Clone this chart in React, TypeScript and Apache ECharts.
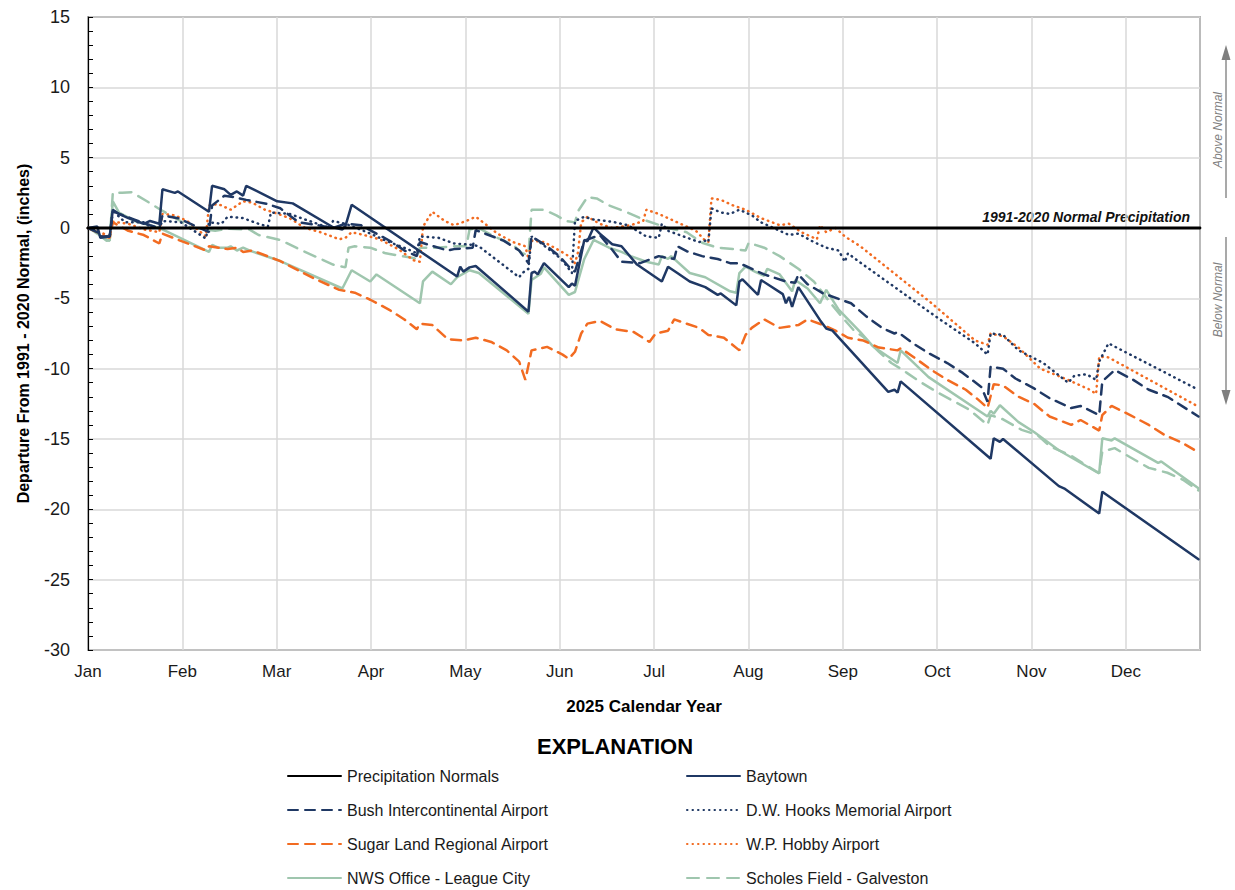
import React, { useEffect, useRef } from "react";
import * as echarts from "echarts";

// ---------- data (day of year 2025, departure in inches) ----------
const MONTHS = ["Jan", "Feb", "Mar", "Apr", "May", "Jun", "Jul", "Aug", "Sep", "Oct", "Nov", "Dec"];
const MONTH_STEP = 365 / 12;
const X_END = 358.5;
const Y_MIN = -30;
const Y_MAX = 15;

const normals: [number, number][] = [[0, 0], [X_END, 0]];

const baytown: [number, number][] = [
  [0, 0], [3, 0.1], [4, -0.7], [7, -0.6], [8, 1.3], [10, 1.0], [13, 0.7], [18, 0.3], [20, 0.5], [23, 0.3],
  [24, 2.75], [28, 2.5], [29, 2.6], [39, 1.15], [40, 3.0], [44, 2.75], [46, 2.35], [48, 2.6], [50, 2.3], [51, 3.0],
  [61, 1.9], [66, 1.75], [79, 0.05], [82, -0.1], [83, 0.15], [85, 1.65], [119, -3.45], [120, -2.75], [121, -3.1],
  [123, -2.8], [125, -2.7], [142, -5.95], [143, -3.2], [144, -3.1], [145, -3.3], [147, -2.5], [155, -4.2],
  [156, -3.95], [157, -4.1], [160, -0.85], [161, -0.95], [163, 0.05], [165, -0.4], [169, -1.15], [172, -1.3],
  [177, -2.6], [185, -3.8], [187, -2.75], [190, -3.2], [194, -3.8], [199, -4.2], [203, -4.75], [204, -4.65],
  [209, -5.5], [210, -3.8], [211, -3.65], [216, -4.75], [217, -3.7], [224, -4.7], [225, -5.35], [226, -4.9],
  [227, -5.6], [229, -4.2], [236, -6.55], [238, -7.15], [240, -7.3], [258, -11.65], [260, -11.5], [261, -11.7],
  [262, -10.9], [291, -16.4], [292, -14.95], [294, -15.2], [295, -15.0], [313, -18.35], [315, -18.55],
  [326, -20.3], [327, -18.75], [358, -23.55],
];

const bush: [number, number][] = [
  [0, 0], [3, -0.3], [4, -0.6], [7, -0.6], [8, 1.2], [10, 1.0], [15, 0.6], [20, 0.2], [23, 0.0], [24, 0.9],
  [29, 0.7], [39, -0.3], [40, 1.6], [44, 2.3], [47, 2.2], [51, 2.0], [58, 1.7], [62, 1.4], [68, 0.4], [74, 0.2],
  [79, 0.0], [83, 0.3], [88, 0.2], [93, -0.4], [98, -1.0], [102, -1.6], [106, -2.0], [107, -1.0], [116, -1.6],
  [118, -1.5], [124, -1.4], [125, -0.15], [134, -0.9], [139, -1.6], [142, -2.5], [143, -0.6], [148, -1.3],
  [152, -2.0], [156, -3.0], [157, -3.1], [160, -0.9], [165, -0.5], [169, -1.55], [172, -2.4], [178, -2.5],
  [184, -2.0], [186, -2.1], [189, -2.2], [190, -1.3], [193, -1.65], [198, -2.0], [203, -2.2], [207, -2.5],
  [210, -2.5], [218, -3.3], [225, -3.8], [228, -3.9], [229, -3.3], [232, -4.0], [237, -4.65], [246, -5.35],
  [251, -6.3], [256, -7.1], [260, -7.5], [261, -7.4], [262, -7.55], [266, -8.2], [271, -8.9], [277, -9.6],
  [282, -10.3], [288, -11.3], [290, -12.35], [291, -9.85], [295, -10.0], [299, -10.7], [305, -11.4],
  [310, -12.1], [317, -12.8], [320, -12.65], [326, -13.3], [327, -10.9], [331, -10.1], [337, -10.8],
  [342, -11.5], [348, -12.0], [353, -12.7], [358, -13.4],
];

const hooks: [number, number][] = [
  [0, 0], [3, -0.2], [4, -0.6], [7, -0.6], [8, 1.3], [10, 0.8], [12, 0.4], [18, 0.4], [20, 0.1], [23, 0.0],
  [24, 0.5], [30, 0.4], [38, -0.75], [39, 0.4], [43, 0.3], [45, 0.8], [50, 0.7], [55, 0.3], [58, 0.1], [59, 1.1],
  [65, 1.0], [70, 0.6], [78, 0.0], [79, 0.5], [83, 0.3], [90, -0.3], [96, -0.9], [103, -1.5], [106, -1.8],
  [107, -0.6], [113, -0.7], [118, -1.1], [124, -1.2], [126, -1.3], [139, -3.5], [140, -3.2], [142, -2.9],
  [143, -0.6], [145, -0.9], [152, -2.1], [154, -2.6], [156, -3.2], [157, 0.5], [160, 0.8], [163, 0.6],
  [167, 0.5], [170, 0.4], [174, 0.2], [180, -0.6], [184, -0.7], [185, 0.3], [187, -0.2], [197, -1.0],
  [199, -0.9], [200, -1.0], [201, 1.4], [204, 1.1], [207, 1.0], [210, 1.3], [214, 0.9], [217, 0.4], [221, 0.0],
  [226, -0.5], [229, -0.4], [234, -1.0], [238, -1.4], [242, -1.6], [244, -2.4], [245, -1.8], [248, -2.3],
  [274, -6.4], [286, -8.2], [290, -9.0], [291, -7.5], [295, -7.6], [300, -8.7], [308, -9.6], [316, -11.0],
  [318, -10.5], [322, -10.4], [325, -10.8], [326, -9.5], [329, -8.2], [358, -11.5],
];

const sugarLand: [number, number][] = [
  [0, 0], [3, -0.3], [6, -0.65], [7, -0.7], [8, 0.4], [13, -0.2], [18, -0.5], [23, -1.1], [24, -0.4],
  [28, -0.75], [38, -1.6], [39, -1.3], [45, -1.5], [48, -1.4], [50, -1.7], [53, -1.6], [62, -2.35], [73, -3.6],
  [81, -4.4], [86, -4.6], [91, -5.1], [97, -5.8], [102, -6.5], [106, -7.2], [107, -6.8], [111, -6.9],
  [116, -7.9], [121, -8.0], [125, -7.8], [130, -8.1], [135, -8.7], [139, -9.5], [141, -10.8], [143, -8.7],
  [148, -8.45], [153, -9.0], [155, -9.3], [157, -8.8], [159, -7.5], [161, -6.8], [165, -6.6], [170, -7.2],
  [176, -7.4], [181, -8.1], [183, -7.5], [187, -7.3], [189, -6.5], [193, -6.8], [197, -7.1], [200, -7.6],
  [205, -7.8], [210, -8.7], [212, -7.6], [214, -7.1], [218, -6.5], [223, -7.1], [226, -7.0], [229, -6.9],
  [232, -6.5], [237, -6.9], [241, -7.3], [245, -7.8], [250, -8.0], [255, -8.5], [261, -8.7], [262, -8.55],
  [266, -9.15], [272, -10.1], [277, -10.8], [283, -11.5], [287, -12.2], [290, -12.8], [292, -11.1],
  [295, -11.2], [300, -12.0], [305, -12.5], [310, -13.4], [317, -14.0], [320, -13.65], [326, -14.4],
  [327, -13.3], [330, -12.65], [336, -13.3], [342, -14.0], [347, -14.7], [353, -15.3], [358, -15.95],
];

const hobby: [number, number][] = [
  [0, 0], [3, -0.2], [6, -0.5], [7, -0.6], [8, 0.45], [13, 0.3], [18, -0.1], [23, -0.3], [24, 1.0], [28, 0.9],
  [32, 0.5], [38, -0.6], [39, 1.6], [42, 1.7], [46, 1.3], [50, 1.9], [53, 1.8], [57, 1.3], [60, 1.1], [65, 0.7],
  [70, 0.0], [75, -0.3], [81, -0.8], [83, -0.7], [85, -0.3], [89, -0.5], [94, -0.8], [100, -1.5], [105, -2.3],
  [107, -2.4], [108, 0.1], [111, 1.15], [115, 0.5], [118, 0.2], [122, 0.5], [125, 0.8], [128, 0.3],
  [132, -0.4], [137, -1.0], [141, -1.3], [142, -2.2], [143, -0.9], [147, -1.0], [152, -1.6], [155, -2.0],
  [157, -2.5], [158, -1.7], [159, 0.4], [161, 0.8], [165, 0.3], [169, 0.0], [175, 0.2], [179, 0.5], [180, 1.3],
  [184, 1.0], [190, 0.4], [196, -0.2], [199, -0.9], [200, -1.0], [201, 2.1], [204, 2.0], [208, 1.6],
  [212, 1.3], [217, 0.7], [223, 0.2], [226, 0.3], [230, -0.3], [235, -0.8], [236, 0.2], [238, -0.3],
  [241, 0.0], [244, -0.6], [249, -1.3], [272, -5.35], [286, -8.0], [290, -8.3], [291, -7.5], [295, -7.7],
  [300, -8.5], [307, -10.0], [316, -10.8], [323, -11.5], [325, -11.8], [326, -9.15], [329, -9.2], [358, -12.7],
];

const leagueCity: [number, number][] = [
  [0, 0], [1, -0.1], [3, -0.4], [6, -0.9], [7, -0.85], [8, 1.9], [10, 1.1], [15, 0.5], [23, 0.0], [25, -0.2],
  [39, -1.7], [40, -1.2], [42, -1.4], [45, -1.4], [46, -1.3], [48, -1.6], [50, -1.4], [52, -1.6], [62, -2.35],
  [82, -4.3], [85, -3.0], [91, -3.8], [93, -3.3], [107, -5.35], [108, -3.8], [111, -3.1], [117, -4.0],
  [119, -3.5], [123, -3.0], [126, -3.2], [142, -6.1], [143, -3.7], [146, -3.25], [147, -2.8], [155, -4.75],
  [157, -4.55], [160, -2.2], [163, -0.85], [168, -1.4], [172, -1.7], [175, -2.0], [180, -2.4], [184, -2.6],
  [185, -2.0], [187, -2.2], [188, -2.0], [194, -3.2], [199, -3.5], [207, -4.5], [209, -4.6], [210, -3.2],
  [212, -2.75], [215, -3.1], [218, -3.4], [219, -2.9], [223, -3.3], [227, -4.5], [228, -3.7], [232, -4.3],
  [236, -5.35], [238, -4.4], [242, -5.8], [249, -7.4], [253, -8.4], [261, -9.6], [262, -8.7], [271, -10.6],
  [290, -13.4], [291, -13.0], [292, -13.2], [294, -12.6], [300, -13.8], [305, -14.5], [313, -15.8],
  [326, -17.45], [327, -14.95], [330, -15.1], [331, -14.95], [345, -16.7], [346, -16.6], [358, -18.5],
];

const scholes: [number, number][] = [
  [0, 0], [3, -0.3], [6, -0.85], [7, -0.9], [8, 2.5], [11, 2.5], [14, 2.55], [19, 1.9], [23, 1.35], [29, 0.6],
  [33, 0.05], [41, -0.2], [45, -0.05], [52, -0.1], [55, -0.5], [62, -0.85], [68, -1.5], [79, -2.6], [83, -2.8],
  [84, -1.4], [86, -1.3], [91, -1.4], [96, -1.8], [104, -2.1], [106, -2.2], [107, -1.4], [112, -1.4],
  [118, -1.3], [122, -1.3], [123, -0.1], [126, 0.0], [131, -0.6], [137, -1.2], [140, -1.8], [142, -1.9],
  [143, 1.3], [147, 1.3], [151, 0.9], [154, 0.5], [157, 0.4], [158, 1.2], [161, 2.2], [164, 2.1], [168, 1.6],
  [174, 1.1], [179, 0.6], [187, 0.0], [193, -0.3], [198, -1.05], [203, -1.4], [208, -1.5], [212, -1.6],
  [213, -1.05], [218, -1.4], [223, -2.0], [229, -2.9], [234, -3.8], [240, -5.5], [243, -6.3], [247, -7.3],
  [250, -7.75], [255, -8.8], [259, -9.6], [262, -10.0], [264, -10.3], [268, -10.9], [274, -11.7], [279, -12.3],
  [284, -12.9], [290, -14.0], [291, -13.3], [295, -13.6], [301, -14.35], [306, -14.7], [310, -15.5],
  [317, -16.2], [325, -17.3], [326, -17.4], [327, -15.9], [331, -15.65], [336, -16.3], [342, -17.05],
  [348, -17.4], [353, -17.9], [358, -18.65],
];

const LEFT_LEGEND = ["Precipitation Normals", "Bush Intercontinental Airport", "Sugar Land Regional Airport", "NWS Office - League City"];
const RIGHT_LEGEND = ["Baytown", "D.W. Hooks Memorial Airport", "W.P. Hobby Airport", "Scholes Field - Galveston"];

// ---------- styles ----------
const NAVY = "#1f3864";
const ORANGE = "#f26b21";
const GREEN = "#9fc6ae";
const FONT = "'Liberation Sans', Arial, sans-serif";
const DASH = [10, 7];
const DOT = [0.5, 5];

type Spec = { name: string; data: [number, number][]; color: string; dash: any; z: number };
const SPECS: Spec[] = [
  { name: "NWS Office - League City", data: leagueCity, color: GREEN, dash: "solid", z: 2 },
  { name: "Scholes Field - Galveston", data: scholes, color: GREEN, dash: [12, 8], z: 2 },
  { name: "Sugar Land Regional Airport", data: sugarLand, color: ORANGE, dash: DASH, z: 3 },
  { name: "W.P. Hobby Airport", data: hobby, color: ORANGE, dash: DOT, z: 3 },
  { name: "D.W. Hooks Memorial Airport", data: hooks, color: NAVY, dash: DOT, z: 4 },
  { name: "Bush Intercontinental Airport", data: bush, color: NAVY, dash: DASH, z: 4 },
  { name: "Baytown", data: baytown, color: NAVY, dash: "solid", z: 5 },
  { name: "Precipitation Normals", data: normals, color: "#000000", dash: "solid", z: 6 },
];

const ROW_CENTERS = [777, 811, 845, 879];

export default function App() {
  const ref = useRef<HTMLDivElement>(null);

  useEffect(() => {
    document.body.style.margin = "0";
    if (!ref.current) return;
    const chart = echarts.init(ref.current, undefined, { renderer: "svg" });

    const makeLegend = (name: string, left: number, row: number) => ({
      orient: "horizontal" as const,
      left,
      top: ROW_CENTERS[row] - 9,
      padding: 0,
      itemWidth: 53,
      itemHeight: 14,
      selectedMode: false,
      itemStyle: { opacity: 0 },
      lineStyle: { opacity: 1 },
      textStyle: { fontSize: 16, color: "#1a1a1a", fontFamily: FONT, padding: [0, 0, 0, 1] },
      data: [name],
    });

    const legends = [
      ...LEFT_LEGEND.map((n, i) => makeLegend(n, 287, i)),
      ...RIGHT_LEGEND.map((n, i) => makeLegend(n, 686, i)),
    ];

    chart.setOption({
      animation: false,
      backgroundColor: "#ffffff",
      textStyle: { fontFamily: FONT },
      grid: {
        left: 88, right: 35, top: 17, bottom: 240,
        show: true, borderColor: "#000", borderWidth: 1.2, backgroundColor: "transparent",
      },
      legend: legends,
      xAxis: {
        type: "value",
        min: 0,
        max: X_END,
        interval: MONTH_STEP,
        name: "2025 Calendar Year",
        nameLocation: "middle",
        nameGap: 48,
        nameTextStyle: { fontSize: 17, fontWeight: "bold", color: "#000", fontFamily: FONT },
        axisLine: { show: true, lineStyle: { color: "#000", width: 1.2 } },
        axisTick: { show: false },
        axisLabel: {
          fontSize: 17, color: "#1a1a1a", margin: 13, showMaxLabel: false, fontFamily: FONT,
          formatter: (v: number) => {
            const i = Math.round(v / MONTH_STEP);
            return Math.abs(v - i * MONTH_STEP) < 0.01 && i < 12 ? MONTHS[i] : "";
          },
        },
        splitLine: { show: true, lineStyle: { color: "#d9d9d9", width: 1.5 } },
      },
      yAxis: {
        type: "value",
        min: Y_MIN,
        max: Y_MAX,
        interval: 5,
        name: "Departure From 1991 - 2020 Normal, (inches)",
        nameLocation: "middle",
        nameGap: 57,
        nameTextStyle: { fontSize: 16, fontWeight: "bold", color: "#000", fontFamily: FONT },
        axisLine: { show: true, lineStyle: { color: "#000", width: 1.2 } },
        axisTick: { show: true, inside: true, length: 5, lineStyle: { color: "#000" } },
        minorTick: { show: true, splitNumber: 5, length: 5, lineStyle: { color: "#000" } },
        axisLabel: { fontSize: 18, color: "#1a1a1a", margin: 18, fontFamily: FONT },
        splitLine: { show: true, lineStyle: { color: "#d9d9d9", width: 1.5 } },
      },
      series: SPECS.map((s) => ({
        name: s.name,
        type: "line",
        data: s.data,
        showSymbol: false,
        symbol: "none",
        z: s.z,
        lineStyle: { color: s.color, width: s.name === "Precipitation Normals" ? 2.8 : 2.5, type: s.dash, cap: "round" },
        itemStyle: { color: s.color },
      })),
      graphic: [
        {
          type: "text", x: 1190, y: 217,
          style: { text: "1991-2020 Normal Precipitation", align: "right", verticalAlign: "middle", font: `italic bold 14px ${FONT}`, fill: "#111" },
        },
        {
          type: "text", x: 615, y: 746,
          style: { text: "EXPLANATION", align: "center", verticalAlign: "middle", font: `bold 22px ${FONT}`, fill: "#000" },
        },
        {
          type: "text", x: 1218, y: 130, rotation: Math.PI / 2,
          style: { text: "Above Normal", align: "center", verticalAlign: "middle", font: `italic 12px ${FONT}`, fill: "#808080" },
        },
        {
          type: "text", x: 1218, y: 300, rotation: Math.PI / 2,
          style: { text: "Below Normal", align: "center", verticalAlign: "middle", font: `italic 12px ${FONT}`, fill: "#808080" },
        },
        { type: "line", shape: { x1: 1226, y1: 198, x2: 1226, y2: 58 }, style: { stroke: "#8c8c8c", lineWidth: 1.5 } },
        { type: "polygon", shape: { points: [[1226, 45], [1221.5, 60], [1230.5, 60]] }, style: { fill: "#7f7f7f" } },
        { type: "line", shape: { x1: 1226, y1: 237, x2: 1226, y2: 392 }, style: { stroke: "#8c8c8c", lineWidth: 1.5 } },
        { type: "polygon", shape: { points: [[1226, 405], [1221.5, 390], [1230.5, 390]] }, style: { fill: "#7f7f7f" } },
      ],
    });

    return () => chart.dispose();
  }, []);

  return <div ref={ref} style={{ width: 1235, height: 890 }} />;
}
